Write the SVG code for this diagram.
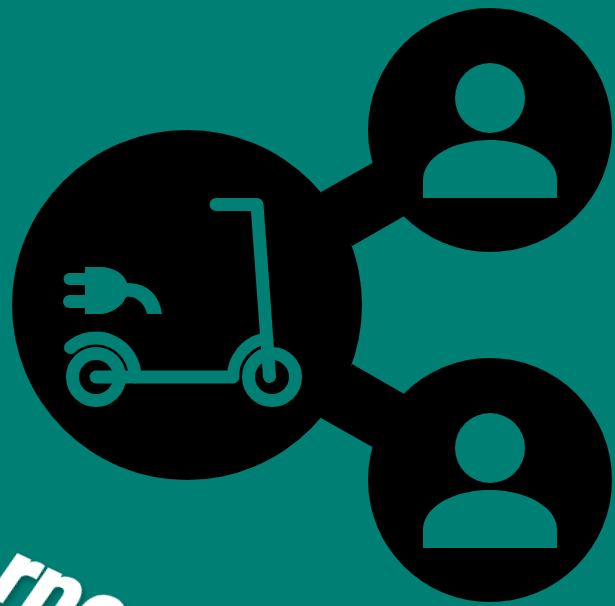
<svg xmlns="http://www.w3.org/2000/svg" width="615" height="606" viewBox="0 0 615 606">
<defs>
<style>
.hub{fill:#000}
.ic{fill:#007f75}
.ln{fill:none;stroke:#007f75;stroke-width:13;stroke-linecap:round;stroke-linejoin:round}
.bt{fill:none;stroke:#007f75;stroke-width:12;stroke-linecap:butt}
.tt{font-family:Roboto,"Liberation Sans",Arial,sans-serif;font-weight:900;font-style:italic;font-size:94px;fill:#fff;stroke:#fff;stroke-width:1.5}
</style>
<filter id="sh" x="-20%" y="-20%" width="140%" height="140%"><feDropShadow dx="4" dy="3" stdDeviation="3" flood-color="#000" flood-opacity=".3"/></filter>
<g id="person"><circle class="ic" cx="490" cy="98" r="35"/><path class="ic" d="M423 198V180C423 156 455 140 490 140S557 156 557 180V198Z"/></g>
</defs>
<rect width="615" height="606" fill="#007f75"/>
<g id="connectors"><path class="hub" d="M321 192L390 153L420 207L352 246Z"/><path class="hub" d="M321 418L390 457L420 403L352 364Z"/></g>
<g id="scooter-node"><circle class="hub" cx="187" cy="305" r="175"/>
<path class="ln" d="M216 204.500H257L269.500 376.500"/>
<circle cx="272" cy="377" r="23.500" fill="none" stroke="#007f75" stroke-width="13"/>
<circle cx="96" cy="377" r="23.500" fill="none" stroke="#007f75" stroke-width="13"/>
<path class="ln" d="M96 377H233"/>
<path class="ln" d="M70.500 347.500A39 39 0 0 1 135 377" stroke-width="12"/>
<path class="bt" d="M233 377A39 39 0 0 1 265 338.600"/>
<path class="ic" d="M85 267H100C115 267 125 275 127 283C150 283 160 298 162 314H147C145 303 135 295 126 297C122 307 110 314 100 314H85V308H69.500A6.500 6.500 0 0 1 69.500 295H85V285H69.500A6 6 0 0 1 69.500 273H85Z"/>
</g>
<g id="user-top"><circle class="hub" cx="490" cy="130" r="122"/><use href="#person"/></g>
<g id="user-bottom"><circle class="hub" cx="490" cy="480" r="122"/><use href="#person" y="350"/></g>
<text class="tt" filter="url(#sh)" transform="translate(-11 596) rotate(25)">rne</text>
</svg>
